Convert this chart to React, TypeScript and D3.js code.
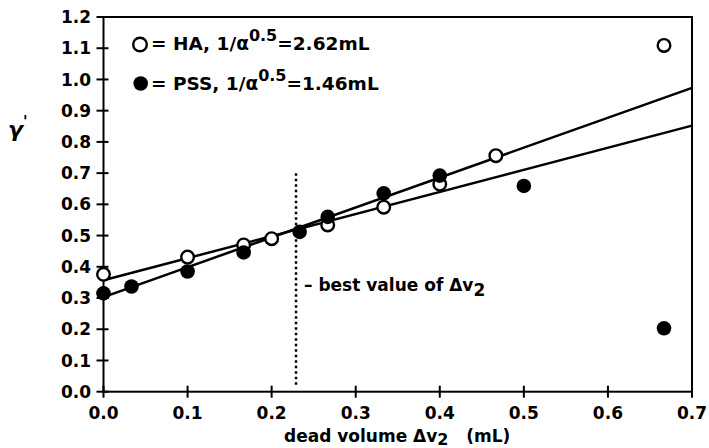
import React from "react";
import * as d3 from "d3";

const xTicks = [0, 0.1, 0.2, 0.3, 0.4, 0.5, 0.6, 0.7];
const yTicks = [0, 0.1, 0.2, 0.3, 0.4, 0.5, 0.6, 0.7, 0.8, 0.9, 1.0, 1.1, 1.2];

const haX = [0, 0.1, 0.1667, 0.2, 0.2667, 0.3333, 0.4, 0.4667, 0.6667];
const haY = [0.376, 0.431, 0.47, 0.49, 0.534, 0.591, 0.665, 0.756, 1.109];
const pssX = [0, 0.0333, 0.1, 0.1667, 0.2333, 0.2667, 0.3333, 0.4, 0.5, 0.6667];
const pssY = [0.315, 0.337, 0.385, 0.446, 0.512, 0.56, 0.635, 0.692, 0.659, 0.203];

const fitX = [0, 0.7];
const haFit = [0.357, 0.852];
const pssFit = [0.303, 0.973];

const bestValue = 0.229;
const bestRange = [0.02, 0.7];

const FONT = "'DejaVu Sans', sans-serif";

export default function App() {
  const x = d3.scaleLinear().domain([0, 0.7]).range([103.5, 692]);
  const y = d3.scaleLinear().domain([0, 1.2]).range([391.7, 17]);
  const line = d3
    .line<[number, number]>()
    .x((d) => x(d[0]))
    .y((d) => y(d[1]));
  const haLine = line(fitX.map((v, i) => [v, haFit[i]] as [number, number]));
  const pssLine = line(fitX.map((v, i) => [v, pssFit[i]] as [number, number]));
  const r = 6.3;

  return (
    <svg
      width={709}
      height={448}
      style={{ position: "absolute", left: 0, top: 0, background: "#fff" }}
      fontFamily={FONT}
      fontWeight="bold"
    >
      <rect x={0} y={0} width={709} height={448} fill="#fff" />
      {/* frame */}
      <rect
        x={x(0)}
        y={y(1.2)}
        width={x(0.7) - x(0)}
        height={y(0) - y(1.2)}
        fill="none"
        stroke="#000"
        strokeWidth={2}
      />
      {/* y ticks */}
      {yTicks.map((t) => (
        <g key={"y" + t}>
          <line x1={x(0) - 7} x2={x(0) + 5} y1={y(t)} y2={y(t)} stroke="#000" strokeWidth={2} />
          <text x={91} y={y(t)} dy="0.36em" textAnchor="end" fontSize={17}>
            {t.toFixed(1)}
          </text>
        </g>
      ))}
      {/* x ticks */}
      {xTicks.map((t) => (
        <g key={"x" + t}>
          <line x1={x(t)} x2={x(t)} y1={y(0) - 6} y2={y(0) + 6} stroke="#000" strokeWidth={2} />
          <text x={x(t)} y={418.5} textAnchor="middle" fontSize={17}>
            {t.toFixed(1)}
          </text>
        </g>
      ))}
      {/* axis titles */}
      <text x={284} y={442} fontSize={17}>
        dead volume Δv
        <tspan dy={3} fontSize={16}>2</tspan>
        <tspan dy={-3} xmlSpace="preserve">{"   (mL)"}</tspan>
      </text>
      <text x={8} y={137} fontSize={22}>
        <tspan fontStyle="italic">γ</tspan>
        <tspan dy={-10} fontSize={15}>'</tspan>
      </text>
      {/* best value marker */}
      <line
        x1={x(bestValue)}
        x2={x(bestValue)}
        y1={y(bestRange[1])}
        y2={y(bestRange[0])}
        stroke="#000"
        strokeWidth={2.5}
        strokeDasharray="2.5,3"
      />
      <text x={304} y={291} fontSize={17}>
        – best value of Δv
        <tspan dy={5}>2</tspan>
      </text>
      {/* fit lines */}
      <path d={haLine || ""} fill="none" stroke="#000" strokeWidth={2.5} />
      <path d={pssLine || ""} fill="none" stroke="#000" strokeWidth={2.5} />
      {/* points */}
      {haX.map((v, i) => (
        <circle key={"ha" + i} cx={x(v)} cy={y(haY[i])} r={r} fill="#fff" stroke="#000" strokeWidth={2.4} />
      ))}
      {pssX.map((v, i) => (
        <circle key={"pss" + i} cx={x(v)} cy={y(pssY[i])} r={r + 1} fill="#000" />
      ))}
      {/* legend */}
      <circle cx={140} cy={44.5} r={r + 0.5} fill="#fff" stroke="#000" strokeWidth={2.4} />
      <text x={151} y={50} fontSize={18.5}>
        = HA, 1/α
        <tspan dy={-9} fontSize={16}>0.5</tspan>
        <tspan dy={9}>=2.62mL</tspan>
      </text>
      <circle cx={140.7} cy={83.5} r={r + 1} fill="#000" />
      <text x={151} y={90} fontSize={18.5}>
        = PSS, 1/α
        <tspan dy={-9} fontSize={16}>0.5</tspan>
        <tspan dy={9}>=1.46mL</tspan>
      </text>
    </svg>
  );
}
